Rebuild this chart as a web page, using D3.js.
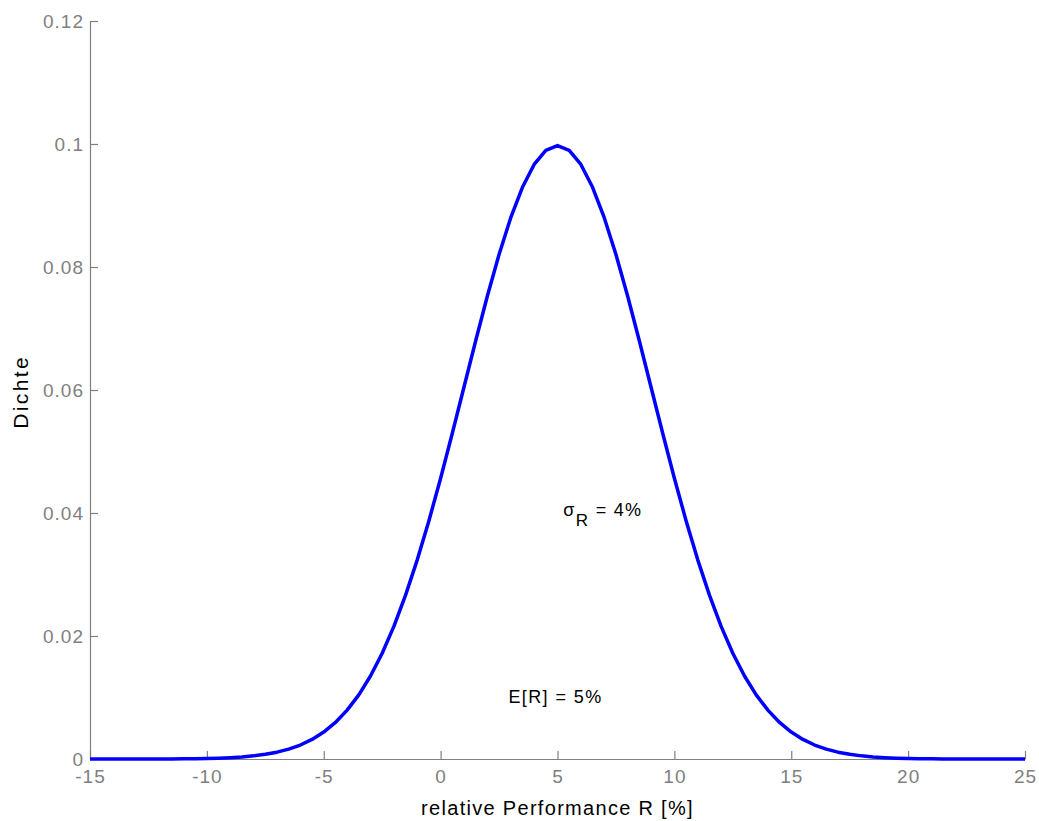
<!DOCTYPE html>
<html>
<head>
<meta charset="utf-8">
<script src="https://cdn.jsdelivr.net/npm/d3@7"></script>
<style>
  html, body { margin: 0; padding: 0; background: #fff; }
  text { font-family: "Liberation Sans", Arial, sans-serif; }
</style>
</head>
<body>
<svg id="chart" width="1039" height="821"></svg>
<script>
// x values (relative performance R in %)
const xValues = [
  -15, -14.5, -14, -13.5, -13, -12.5, -12, -11.5, -11, -10.5,
  -10, -9.5, -9, -8.5, -8, -7.5, -7, -6.5, -6, -5.5,
  -5, -4.5, -4, -3.5, -3, -2.5, -2, -1.5, -1, -0.5,
  0, 0.5, 1, 1.5, 2, 2.5, 3, 3.5, 4, 4.5,
  5, 5.5, 6, 6.5, 7, 7.5, 8, 8.5, 9, 9.5,
  10, 10.5, 11, 11.5, 12, 12.5, 13, 13.5, 14, 14.5,
  15, 15.5, 16, 16.5, 17, 17.5, 18, 18.5, 19, 19.5,
  20, 20.5, 21, 21.5, 22, 22.5, 23, 23.5, 24, 24.5, 25
];
// density values
const densityValues = [
  0.00000, 0.00000, 0.00000, 0.00000, 0.00000, 0.00001, 0.00001, 0.00002, 0.00003, 0.00005,
  0.00009, 0.00014, 0.00022, 0.00034, 0.00051, 0.00076, 0.00111, 0.00160, 0.00227, 0.00318,
  0.00438, 0.00594, 0.00794, 0.01043, 0.01350, 0.01720, 0.02157, 0.02664, 0.03238, 0.03875,
  0.04566, 0.05297, 0.06049, 0.06801, 0.07528, 0.08204, 0.08802, 0.09296, 0.09667, 0.09896,
  0.09974, 0.09896, 0.09667, 0.09296, 0.08802, 0.08204, 0.07528, 0.06801, 0.06049, 0.05297,
  0.04566, 0.03875, 0.03238, 0.02664, 0.02157, 0.01720, 0.01350, 0.01043, 0.00794, 0.00594,
  0.00438, 0.00318, 0.00227, 0.00160, 0.00111, 0.00076, 0.00051, 0.00034, 0.00022, 0.00014,
  0.00009, 0.00005, 0.00003, 0.00002, 0.00001, 0.00001, 0.00000, 0.00000, 0.00000, 0.00000, 0.00000
];
const xTicks = [-15, -10, -5, 0, 5, 10, 15, 20, 25];
const xTickLabels = ["-15", "-10", "-5", "0", "5", "10", "15", "20", "25"];
const yTicks = [0, 0.02, 0.04, 0.06, 0.08, 0.1, 0.12];
const yTickLabels = ["0", "0.02", "0.04", "0.06", "0.08", "0.1", "0.12"];
const xLabel = "relative Performance R [%]";
const yLabel = "Dichte";

const svg = d3.select("#chart");
const mLeft = 90, mRight = 1025, mTop = 21, mBottom = 759;

const x = d3.scaleLinear().domain([-15, 25]).range([mLeft, mRight]);
const y = d3.scaleLinear().domain([0, 0.12]).range([mBottom, mTop]);

const axisColor = "#808080";

// y axis (ticks pointing inward)
const yAxis = svg.append("g")
  .attr("transform", `translate(${mLeft},0)`)
  .call(d3.axisLeft(y).tickValues(yTicks).tickSizeInner(-8).tickSizeOuter(0)
    .tickPadding(6).tickFormat((d, i) => yTickLabels[i]));
yAxis.select(".domain").attr("stroke", axisColor).attr("stroke-width", 1.2);
yAxis.selectAll(".tick line").attr("stroke", axisColor).attr("stroke-width", 1.2);
yAxis.selectAll(".tick text").attr("fill", axisColor)
  .style("font-size", "19px").style("letter-spacing", "1px")
  .style("font-family", "'Liberation Sans', Arial, sans-serif");

// x axis (ticks pointing inward)
const xAxis = svg.append("g")
  .attr("transform", `translate(0,${mBottom})`)
  .call(d3.axisBottom(x).tickValues(xTicks).tickSizeInner(-8).tickSizeOuter(0)
    .tickPadding(11).tickFormat((d, i) => xTickLabels[i]));
xAxis.select(".domain").attr("stroke", axisColor).attr("stroke-width", 1.2);
xAxis.selectAll(".tick line").attr("stroke", axisColor).attr("stroke-width", 1.2);
xAxis.selectAll(".tick text").attr("fill", axisColor)
  .style("font-size", "19px").style("letter-spacing", "1px")
  .style("font-family", "'Liberation Sans', Arial, sans-serif");

// curve
const data = xValues.map((v, i) => ({ x: v, y: densityValues[i] }));
svg.append("path")
  .datum(data)
  .attr("fill", "none")
  .attr("stroke", "#0000ff")
  .attr("stroke-width", 3.5)
  .attr("stroke-linejoin", "round")
  .attr("d", d3.line().x(d => x(d.x)).y(d => y(d.y)));

// axis labels
svg.append("text")
  .attr("x", x(5)).attr("y", 815)
  .attr("text-anchor", "middle")
  .style("font-size", "20px").style("letter-spacing", "1.3px")
  .attr("fill", "#000")
  .text(xLabel);

svg.append("text")
  .attr("transform", `translate(28,${y(0.0597)}) rotate(-90)`)
  .attr("text-anchor", "middle")
  .style("font-size", "21px").style("letter-spacing", "2.4px")
  .attr("fill", "#000")
  .text(yLabel);

// annotations
const sig = svg.append("text")
  .attr("x", x(5.25)).attr("y", y(0.0395))
  .style("font-size", "18px").style("letter-spacing", "1.3px")
  .attr("fill", "#000");
sig.append("tspan").text("σ");
sig.append("tspan").attr("dy", 10).style("font-size", "17px").text("R");
sig.append("tspan").attr("dy", -10).text(" = 4%");

svg.append("text")
  .attr("x", x(2.9)).attr("y", y(0.0091))
  .style("font-size", "18px").style("letter-spacing", "1.4px")
  .attr("fill", "#000")
  .text("E[R] = 5%");
</script>
</body>
</html>
